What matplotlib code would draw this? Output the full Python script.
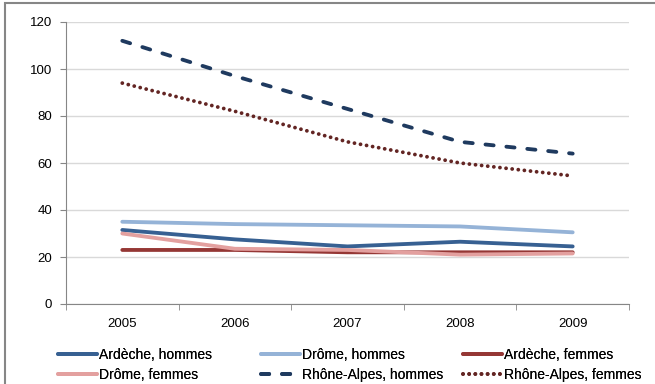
import matplotlib.pyplot as plt
from matplotlib.patches import Rectangle

plt.rcParams["font.family"] = ["Liberation Sans", "DejaVu Sans"]

years = ["2005", "2006", "2007", "2008", "2009"]
ardeche_h = [31.5, 27.5, 24.5, 26.5, 24.5]
drome_h = [35, 34, 33.5, 33, 30.5]
ardeche_f = [23, 23, 22, 22, 22]
drome_f = [30, 23.5, 23, 21, 21.5]
ra_h = [112, 97, 83, 69, 64]
ra_f = [94, 82, 69, 60, 54.5]

series = [
    ("Ardèche, hommes", ardeche_h, "#376092", "-"),
    ("Drôme, hommes", drome_h, "#95b3d7", "-"),
    ("Ardèche, femmes", ardeche_f, "#953735", "-"),
    ("Drôme, femmes", drome_f, "#e3a09f", "-"),
    ("Rhône-Alpes, hommes", ra_h, "#1f3a5f", (0, (2.15, 3.35))),
    ("Rhône-Alpes, femmes", ra_f, "#632523", (0, (0.01, 1.6))),
]

# legend columns as in the original: (handle start in px, entries)
legend_cols = [(58, [0, 3]), (261, [1, 4]), (463, [2, 5])]


def main():
    fig = plt.figure(figsize=(6.55, 3.84), dpi=100)
    ax = fig.add_axes([66 / 655, 1 - 304 / 384, 563 / 655, 282 / 384])

    x = list(range(len(years)))
    lines = []
    for label, values, color, style in series:
        (ln,) = ax.plot(x, values, color=color, linestyle=style, linewidth=2.75,
                        label=label, solid_capstyle="round", dash_capstyle="round")
        lines.append(ln)

    ax.set_xlim(-0.5, len(years) - 0.5)
    ax.set_ylim(0, 120)
    ax.set_yticks(range(0, 121, 20))
    ax.set_xticks(x)
    ax.set_xticklabels(years)
    ax.set_xticks([i - 0.5 for i in range(len(years) + 1)], minor=True)
    ax.tick_params(axis="x", which="major", length=0, pad=10, labelsize=9.5)
    ax.tick_params(axis="x", which="minor", length=4, color="#868686", direction="out")
    ax.tick_params(axis="y", length=4, color="#868686", labelsize=9.5, pad=6)
    ax.grid(axis="y", color="#d9d9d9", linewidth=1)
    ax.set_axisbelow(True)
    for side in ("top", "right"):
        ax.spines[side].set_visible(False)
    for side in ("left", "bottom"):
        ax.spines[side].set_color("#868686")

    for px, idx in legend_cols:
        leg = fig.legend([lines[i] for i in idx], [series[i][0] for i in idx],
                         loc="upper left", bbox_to_anchor=(px / 655, 1 - 348 / 384),
                         frameon=False, fontsize=10, handlelength=2.8,
                         handletextpad=0.15, labelspacing=0.45, borderpad=0,
                         borderaxespad=0)
        fig.add_artist(leg)

    fig.patches.append(Rectangle((5 / 655, -0.1), 1.2, 1.1 - 3 / 384,
                                 transform=fig.transFigure, fill=False,
                                 edgecolor="#868686", linewidth=1.5))
    fig.savefig("out.png", dpi=100)


if __name__ == "__main__":
    main()
